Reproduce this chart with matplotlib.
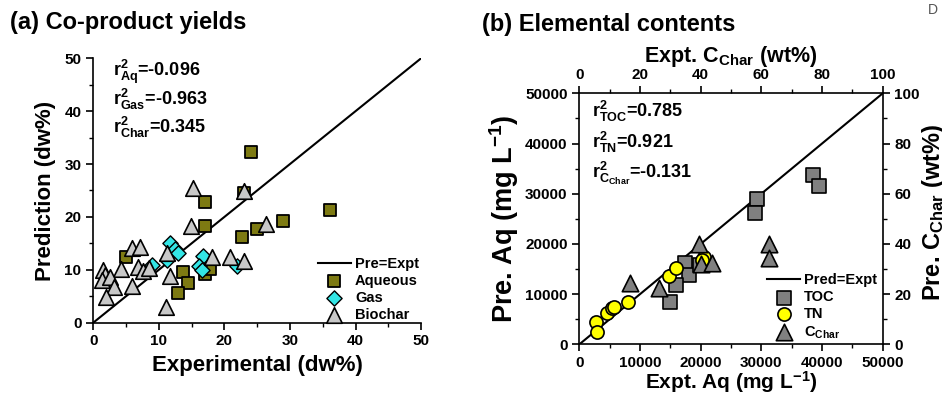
import numpy as np
import matplotlib
matplotlib.use('Agg')
import matplotlib.pyplot as plt
from matplotlib.ticker import MultipleLocator

plt.rcParams['font.family'] = ['Liberation Sans', 'DejaVu Sans']
plt.rcParams['font.weight'] = 'bold'
plt.rcParams['mathtext.fontset'] = 'custom'
plt.rcParams['mathtext.rm'] = 'Liberation Sans:bold'
plt.rcParams['mathtext.bf'] = 'Liberation Sans:bold'
plt.rcParams['mathtext.it'] = 'Liberation Sans:bold'
plt.rcParams['axes.linewidth'] = 1.2

# (a) co-product yields, experimental vs predicted (dw%)
aq_x = [24.0, 17.0, 17.0, 22.7, 25.0, 28.9, 36.1, 5.0, 13.7, 14.4, 13.0, 17.0, 17.8, 23.0]
aq_y = [32.2, 22.9, 18.3, 16.3, 17.7, 19.2, 21.3, 12.5, 9.5, 7.6, 5.7, 9.3, 10.1, 24.6]
gas_x = [11.7, 12.5, 13.0, 11.3, 8.9, 16.8, 16.2, 16.6, 22.0]
gas_y = [15.1, 14.0, 13.2, 11.9, 11.0, 12.6, 10.7, 10.0, 10.8]
char_x = [15.2, 23.0, 14.9, 26.3, 5.9, 7.1, 11.2, 18.1, 20.9, 23.0, 4.3, 6.8, 7.6, 8.5,
          1.5, 1.8, 1.3, 2.5, 3.2, 5.9, 2.0, 11.7, 11.1]
char_y = [25.4, 24.9, 18.3, 18.7, 14.2, 14.4, 13.2, 12.5, 12.5, 11.7, 10.1, 10.6, 9.8, 10.3,
          10.0, 9.0, 8.1, 8.7, 6.7, 6.9, 4.9, 8.8, 3.0]
r2_a = ['-0.096', '-0.963', '0.345']

# (b) elemental contents
toc_x = [29360, 28980, 38470, 39570, 17450, 18000, 15970, 14870, 19920]
toc_y = [28950, 26100, 33730, 31540, 16140, 13810, 11820, 8500, 15800]
tn_x = [2740, 2960, 4560, 5380, 5760, 8010, 14710, 15970, 20470, 20300]
tn_y = [4520, 2390, 6180, 7170, 7500, 8500, 13610, 15140, 17460, 16790]
cc_x = [16.8, 26.3, 39.3, 40.0, 43.6, 62.6, 62.6]   # wt%
cc_y = [24.5, 22.5, 39.8, 32.0, 32.3, 40.1, 34.3]   # wt%
r2_b = ['0.785', '0.921', '-0.131']

fig = plt.figure(figsize=(9.42, 3.94), dpi=100)

# ---------------- panel a ----------------
ax = fig.add_axes([0.099, 0.181, 0.348, 0.671])
ax.plot([0, 50], [0, 50], 'k-', lw=1.5, label='Pre=Expt', zorder=1)
ax.scatter(aq_x, aq_y, marker='s', s=85, c='#7d7a12', edgecolors='k', linewidths=1.3,
           label='Aqueous', zorder=3)
ax.scatter(gas_x, gas_y, marker='D', s=60, c='#33e6e6', edgecolors='k', linewidths=1.0,
           label='Gas', zorder=3)
ax.scatter(char_x, char_y, marker='^', s=125, c='#c8c8c8', edgecolors='k', linewidths=1.2,
           label='Biochar', zorder=4)
ax.set_xlim(0, 50)
ax.set_ylim(0, 50)
ax.spines['top'].set_visible(False)
ax.spines['right'].set_visible(False)
ax.xaxis.set_major_locator(MultipleLocator(10))
ax.xaxis.set_minor_locator(MultipleLocator(5))
ax.yaxis.set_major_locator(MultipleLocator(10))
ax.yaxis.set_minor_locator(MultipleLocator(5))
ax.tick_params(which='major', direction='out', length=5, width=1.2, labelsize=11)
ax.tick_params(which='minor', direction='out', length=3, width=1.0)
ax.set_xlabel('Experimental (dw%)', fontsize=16, fontweight='bold', labelpad=5)
ax.set_ylabel('Prediction (dw%)', fontsize=16, fontweight='bold', labelpad=6)
labs = ['Aq', 'Gas', 'Char']
for i, (lab, v) in enumerate(zip(labs, r2_a)):
    ax.text(3.0, 47.4 - 5.2 * i, r'$\mathbf{r^2_{%s}}$=%s' % (lab, v),
            fontsize=13, fontweight='bold', va='center', ha='left')
ax.legend(loc='lower right', bbox_to_anchor=(1.02, -0.03), frameon=False,
          fontsize=10.5, handlelength=2.2, handletextpad=0.3, labelspacing=0.2,
          borderaxespad=0.2)
fig.text(0.011, 0.944, '(a) Co-product yields', fontsize=17, fontweight='bold',
         ha='left', va='center')

# ---------------- panel b ----------------
rect = [0.615, 0.126, 0.322, 0.637]
bx = fig.add_axes(rect)
bx.plot([0, 50000], [0, 50000], 'k-', lw=1.5, label='Pred=Expt', zorder=1)
bx.scatter(toc_x, toc_y, marker='s', s=95, c='#808080', edgecolors='k', linewidths=1.2,
           label='TOC', zorder=3)
bx.scatter(tn_x, tn_y, marker='o', s=90, c='#ffff00', edgecolors='k', linewidths=1.2,
           label='TN', zorder=4)
bx.set_xlim(0, 50000)
bx.set_ylim(0, 50000)
bx.xaxis.set_major_locator(MultipleLocator(10000))
bx.xaxis.set_minor_locator(MultipleLocator(5000))
bx.yaxis.set_major_locator(MultipleLocator(10000))
bx.yaxis.set_minor_locator(MultipleLocator(5000))
bx.tick_params(which='major', direction='out', length=5, width=1.2, labelsize=11)
bx.tick_params(which='minor', direction='out', length=3, width=1.0)
bx.set_xlabel(r'Expt. Aq (mg L$^{-1}$)', fontsize=15, fontweight='bold')
bx.xaxis.set_label_coords(0.5, -0.098)
bx.set_ylabel(r'Pre. Aq (mg L$^{-1}$)', fontsize=19.5, fontweight='bold', labelpad=3)
tlabs = ['TOC', 'TN', 'C_{Char}']
for i, (lab, v) in enumerate(zip(tlabs, r2_b)):
    bx.text(2090, 46330 - 6100 * i, r'$\mathbf{r^2_{%s}}$=%s' % (lab, v),
            fontsize=13, fontweight='bold', va='center', ha='left')

cx = fig.add_axes(rect, frameon=False)
cx.patch.set_visible(False)
cx.scatter(cc_x, cc_y, marker='^', s=140, c='#808080', edgecolors='k', linewidths=1.2,
           label=r'C$_{\mathregular{Char}}$', zorder=5)
cx.set_xlim(0, 100)
cx.set_ylim(0, 100)
cx.xaxis.tick_top()
cx.yaxis.tick_right()
cx.xaxis.set_label_position('top')
cx.yaxis.set_label_position('right')
cx.xaxis.set_major_locator(MultipleLocator(20))
cx.xaxis.set_minor_locator(MultipleLocator(10))
cx.yaxis.set_major_locator(MultipleLocator(20))
cx.yaxis.set_minor_locator(MultipleLocator(10))
cx.tick_params(which='major', direction='out', length=5, width=1.2, labelsize=11)
cx.tick_params(which='minor', direction='out', length=3, width=1.0)
cx.set_xlabel(r'Expt. C$_{Char}$ (wt%)', fontsize=15.5, fontweight='bold', labelpad=4)
cx.set_ylabel(r'Pre. C$_{Char}$ (wt%)', fontsize=17, fontweight='bold')
cx.yaxis.set_label_coords(1.123, 0.527)

h1, l1 = bx.get_legend_handles_labels()
h2, l2 = cx.get_legend_handles_labels()
cx.legend(h1 + h2, l1 + l2, loc='lower right', bbox_to_anchor=(1.01, -0.02), frameon=False,
          fontsize=10.5, handlelength=2.2, handletextpad=0.3, labelspacing=0.2,
          borderaxespad=0.2)
fig.text(0.512, 0.937, '(b) Elemental contents', fontsize=17, fontweight='bold',
         ha='left', va='center')
fig.text(0.985, 0.975, 'D', fontsize=10, color='#555555', fontweight='normal',
         ha='left', va='center')

fig.savefig('out.png', dpi=100)
